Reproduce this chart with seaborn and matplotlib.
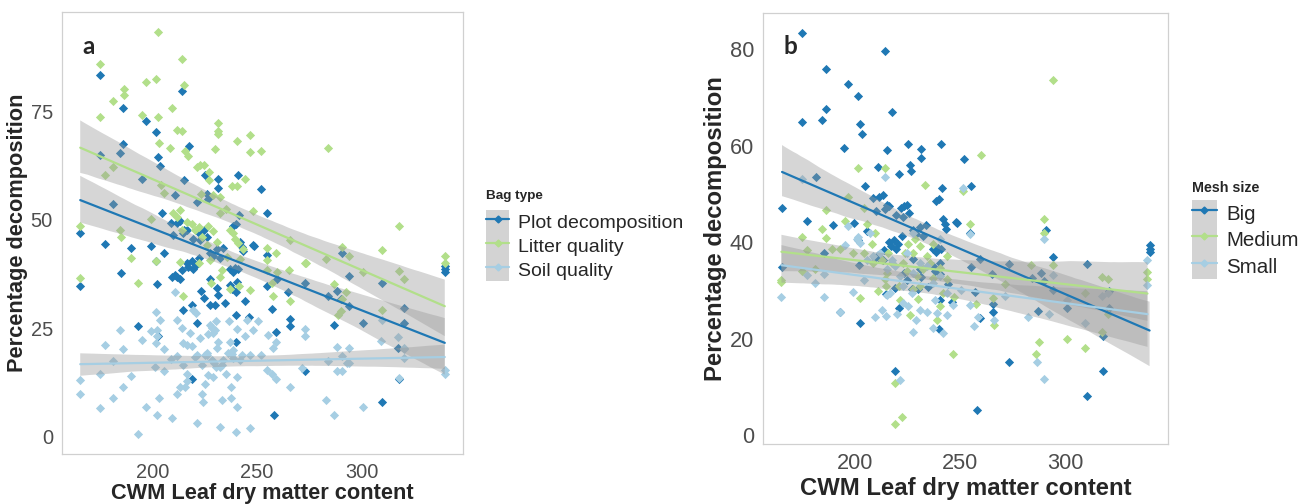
import matplotlib
matplotlib.use("Agg")
import matplotlib.pyplot as plt
import seaborn as sns
from matplotlib.lines import Line2D
from matplotlib.patches import Rectangle
from matplotlib.collections import PolyCollection

# Plot decomposition (panel a) == Big mesh (panel b)
plot_x = [165.3, 165.3, 174.7, 174.7, 177.2, 181.2, 184.1, 185.0, 186.0, 186.0,
          189.5, 193.0, 194.7, 196.7, 199.4, 201.6, 202.4, 203.3, 201.6, 201.9,
          202.4, 204.5, 205.6, 208.6, 210.7, 214.0, 215.0, 217.4, 214.5, 218.9,
          218.9, 221.0, 225.0, 226.3, 231.4, 231.4, 227.2, 229.9, 231.4, 234.4,
          240.8, 241.4, 240.1, 240.1, 244.1, 246.0, 239.8, 251.6, 254.8, 254.5,
          256.9, 258.0, 259.2, 265.6, 265.6, 273.1, 273.1, 286.8, 290.4, 288.4,
          294.1, 309.9, 309.9, 317.8, 320.5, 320.5, 339.8, 339.8, 339.8,
          209.4, 211.5, 213.1, 210.7, 213.9, 216.2, 217.0, 218.6, 220.5, 222.3,
          222.6, 223.4, 221.8, 219.4, 224.5, 225.8, 227.4, 229.0, 230.6, 232.2,
          233.8, 237.0, 238.5, 239.3, 240.9, 241.7, 242.5, 243.3, 247.8, 248.4,
          238.5, 239.8, 209.9, 214.3, 216.2, 221.0, 226.0, 223.1, 224.5, 219.4,
          215.0, 213.1, 211.5, 227.4, 230.6, 237.0, 238.1, 240.4,
          254.9, 284.0, 300.8, 317.5, 264.9, 289.9, 293.9, 259.4]
plot_y = [47.0, 34.8, 83.5, 64.9, 44.5, 53.6, 65.4, 37.7, 75.9, 67.6,
          43.6, 25.5, 59.5, 72.8, 44.0, 70.3, 64.5, 62.4, 40.5, 35.3,
          23.2, 51.7, 42.4, 49.2, 55.7, 79.7, 59.1, 67.1, 29.2, 30.5,
          13.3, 26.3, 60.3, 54.8, 59.4, 57.4, 30.3, 30.3, 32.7, 30.8,
          60.4, 51.2, 33.5, 28.1, 31.3, 27.7, 21.9, 57.2, 51.6, 41.9,
          29.6, 5.1, 24.2, 27.2, 25.5, 35.5, 15.2, 25.8, 42.5, 33.6,
          37.0, 8.0, 35.4, 13.3, 26.3, 29.8, 39.4, 38.6, 38.0,
          36.8, 36.8, 36.3, 37.3, 38.4, 40.0, 39.2, 40.5, 39.7, 41.3,
          45.3, 47.5, 47.2, 45.6, 47.8, 46.1, 42.5, 41.7, 43.2, 41.3,
          43.5, 38.7, 37.9, 38.9, 38.7, 44.9, 43.8, 42.8, 44.3, 44.0,
          48.6, 49.0, 46.5, 46.9, 47.6, 54.2, 56.1, 33.7, 32.1, 38.6,
          47.8, 49.7, 49.3, 36.5, 34.4, 35.0, 34.0, 35.7,
          34.8, 32.5, 26.3, 20.6, 33.4, 31.9, 30.1, 36.5]

litter_x = [165.3, 165.3, 174.7, 174.7, 177.2, 181.2, 181.2, 186.1, 186.1, 184.1,
            185.0, 189.5, 193.0, 194.7, 196.7, 199.4, 201.8, 202.4, 202.4, 203.2,
            201.6, 204.0, 205.6, 208.3, 209.4, 211.6, 214.0, 215.0, 214.0, 215.6,
            216.7, 214.3, 221.0, 222.6, 224.7, 226.8, 231.4, 231.4, 231.4, 229.7,
            223.3, 227.1, 228.9, 232.2, 234.9, 237.9, 240.4, 240.3, 244.3, 246.7,
            246.8, 248.1, 251.6, 254.5, 254.5, 256.9, 257.6, 259.2, 265.6, 265.9,
            273.1, 282.8, 284.1, 286.8, 290.4, 292.5, 294.1, 300.8, 309.9, 309.9,
            317.8, 317.8, 320.5, 339.8, 339.8,
            209.9, 211.5, 213.1, 213.9, 216.2, 218.6, 220.2, 222.3, 223.4, 225.8,
            226.6, 229.0, 230.6, 237.0, 238.5, 239.3, 240.9, 241.7, 243.3, 233.0,
            235.4, 232.2, 232.2, 227.4, 222.1,
            254.6, 259.4, 265.4, 273.3, 290.4, 288.5, 212.9, 227.8, 237.1, 241.1,
            246.6, 289.9]
litter_y = [48.6, 36.7, 85.9, 73.8, 60.3, 77.5, 62.2, 80.2, 78.7, 47.6,
            46.0, 41.3, 35.5, 74.2, 81.9, 50.2, 82.4, 93.3, 73.8, 67.7,
            40.6, 58.0, 56.2, 66.6, 75.9, 70.7, 87.1, 81.1, 70.5, 65.8,
            64.8, 32.5, 62.2, 62.6, 62.7, 61.1, 72.4, 70.6, 69.7, 66.4,
            56.1, 59.1, 55.7, 55.3, 52.6, 57.8, 57.8, 68.3, 59.5, 69.5,
            65.7, 52.1, 65.9, 43.6, 40.7, 35.4, 32.4, 42.5, 45.5, 31.3,
            40.0, 41.0, 66.6, 35.2, 43.8, 33.4, 41.7, 38.0, 43.1, 29.2,
            48.6, 38.2, 36.3, 41.6, 40.2,
            51.5, 50.7, 52.2, 47.6, 49.5, 49.1, 47.6, 48.4, 46.1, 44.2,
            48.6, 47.4, 44.9, 47.6, 46.9, 45.7, 44.6, 41.1, 43.4, 38.4,
            41.5, 36.9, 51.5, 40.7, 40.0,
            38.4, 37.9, 38.4, 40.1, 31.9, 28.1, 40.3, 35.5, 34.0, 34.7,
            33.8, 29.0]

soil_x = [165.3, 165.3, 174.7, 174.7, 177.2, 181.2, 184.1, 186.0, 186.0, 189.5,
          193.0, 194.7, 196.7, 199.4, 201.6, 201.9, 201.3, 201.9, 203.2, 203.5,
          205.6, 205.6, 208.6, 209.4, 210.7, 211.5, 213.9, 214.3, 214.6, 215.6,
          216.2, 218.6, 219.4, 220.7, 221.0, 222.6, 223.4, 223.9, 225.0, 226.6,
          227.4, 229.0, 229.8, 230.6, 231.4, 232.2, 232.2, 233.0, 235.1, 237.0,
          237.5, 237.5, 238.5, 239.8, 240.4, 240.4, 240.4, 244.1, 244.9, 246.5,
          248.1, 250.5, 254.5, 255.4, 256.9, 258.9, 259.2, 265.6, 271.3, 273.1,
          273.1, 282.8, 284.1, 286.8, 288.4, 290.4, 288.4, 290.4, 294.1, 294.1,
          300.8, 309.9, 317.8, 320.5, 320.5, 339.8, 339.8,
          217.8, 221.0, 225.8, 228.2, 230.3, 233.8, 235.9, 238.5, 241.7, 246.5,
          225.0, 229.0, 216.2, 213.1, 223.4,
          211.6, 220.4, 225.9, 229.1, 233.1, 237.9, 242.6, 251.6, 180.9, 211.6,
          230.4, 236.3, 201.7, 202.1, 216.4, 226.7, 228.3, 257.8, 292.8, 320.2,
          317.5, 309.5]
soil_y = [13.2, 10.0, 14.6, 6.6, 21.3, 8.9, 24.6, 20.2, 11.4, 14.1,
          0.7, 22.3, 6.8, 24.4, 28.8, 5.1, 16.2, 24.6, 8.9, 26.9,
          20.2, 15.2, 17.9, 4.4, 33.3, 9.8, 25.0, 21.6, 16.6, 11.6,
          14.4, 20.9, 29.2, 28.5, 3.1, 22.7, 9.8, 8.1, 19.0, 14.3,
          25.8, 23.9, 24.6, 20.6, 21.9, 16.2, 2.4, 8.5, 14.6, 21.9,
          11.6, 8.9, 20.0, 1.1, 13.9, 7.0, 24.8, 23.2, 26.9, 2.0,
          24.6, 26.8, 15.4, 23.6, 14.6, 21.9, 13.3, 11.4, 16.0, 24.8,
          23.2, 8.5, 17.5, 5.1, 15.2, 15.2, 20.8, 18.6, 20.6, 17.1,
          7.0, 26.9, 13.5, 18.1, 20.2, 15.4, 14.5,
          23.9, 18.9, 19.3, 17.7, 16.2, 17.7, 19.3, 18.1, 17.7, 18.9,
          12.3, 13.9, 12.8, 11.6, 16.6,
          18.6, 18.5, 18.9, 17.0, 16.6, 19.2, 18.9, 18.9, 17.5, 26.9,
          26.8, 26.8, 21.6, 23.2, 21.2, 23.8, 25.0, 20.4, 17.1, 20.6,
          23.1, 22.0]

medium_x = [165.0, 165.0, 174.8, 174.8, 177.1, 181.1, 184.2, 186.0, 186.0, 189.0,
            192.9, 195.0, 196.5, 199.2, 201.4, 202.4, 204.0, 204.0, 205.5, 207.9,
            209.5, 211.0, 214.2, 214.7, 214.2, 215.8, 218.9, 218.9, 222.1, 221.0,
            221.3, 223.7, 224.5, 225.2, 226.0, 227.6, 228.4, 229.2, 230.0, 230.8,
            233.4, 233.9, 237.1, 238.7, 240.2, 241.5, 243.4, 246.5, 246.8, 251.3,
            254.7, 257.6, 259.6, 265.9, 265.4, 271.0, 283.6, 287.5, 286.0, 289.9,
            289.9, 293.8, 293.8, 300.6, 309.1, 309.1, 317.0, 317.2, 319.9, 319.9,
            338.8, 338.8,
            212.6, 217.4, 222.9, 227.6, 232.3, 235.5, 240.2, 243.4, 237.1, 230.8,
            215.0, 208.7]
medium_y = [31.7, 32.1, 41.0, 34.1, 38.4, 34.5, 42.7, 46.6, 40.9, 38.7,
            38.5, 44.5, 49.3, 37.8, 55.5, 28.4, 47.2, 37.8, 43.8, 39.7,
            42.0, 29.8, 55.3, 31.0, 32.3, 37.8, 10.8, 2.2, 3.7, 30.9,
            28.1, 37.8, 34.0, 39.6, 24.9, 30.2, 40.6, 33.0, 28.2, 30.9,
            51.8, 37.1, 39.6, 23.8, 26.7, 29.5, 37.1, 16.9, 28.6, 50.6,
            43.8, 27.2, 58.2, 22.9, 28.4, 31.4, 35.3, 19.4, 16.9, 44.9,
            41.9, 73.7, 35.3, 19.9, 29.5, 18.1, 21.3, 32.8, 32.3, 25.2,
            33.8, 32.3,
            36.4, 35.7, 35.7, 37.8, 34.4, 35.7, 34.7, 32.3, 32.6, 39.2,
            33.7, 35.7]

small_x = [165.0, 174.8, 177.1, 181.1, 185.4, 185.4, 192.9, 195.3, 196.5, 199.2,
           201.6, 202.1, 204.0, 205.5, 207.1, 209.5, 212.6, 214.2, 214.7, 215.0,
           217.4, 219.7, 221.3, 222.9, 225.2, 226.8, 227.6, 228.9, 230.8, 233.9,
           236.8, 237.9, 239.0, 240.2, 241.8, 243.7, 246.5, 250.5, 251.3, 254.4,
           254.7, 256.3, 258.4, 265.9, 271.0, 282.0, 286.3, 289.9, 289.9, 291.9,
           293.8, 300.6, 309.1, 317.0, 319.9, 338.8, 338.8,
           200.8, 208.7, 211.8, 215.0, 218.9, 221.3, 224.4, 227.6, 230.8, 233.9,
           237.1, 240.2, 243.4, 227.6, 222.9, 216.7]
small_y = [28.6, 53.2, 33.1, 31.6, 33.4, 28.6, 25.6, 39.4, 43.4, 29.7,
           41.0, 39.9, 32.1, 36.4, 42.0, 24.5, 26.0, 53.5, 24.7, 29.1,
           36.4, 25.2, 11.5, 27.4, 26.8, 29.5, 21.3, 23.8, 26.0, 25.6,
           22.2, 28.1, 25.3, 40.6, 21.1, 24.9, 27.0, 30.0, 51.2, 27.0,
           41.7, 22.6, 24.5, 23.8, 28.8, 24.4, 15.1, 40.6, 11.7, 25.2,
           33.2, 28.1, 23.3, 28.8, 29.5, 36.4, 31.2,
           40.6, 37.1, 37.8, 34.4, 35.1, 33.0, 37.8, 33.7, 35.7, 35.1,
           31.6, 33.0, 29.5, 42.0, 31.0, 29.5]

BLUE = "#1f78b4"
GREEN = "#b2df8a"
LIGHT = "#a6cee3"
BAND = "#999999"
KEY_BG = "#d3d3d3"
FONT = "Liberation Sans"
W, H = 1310, 504


def padded(values, frac=0.05):
    lo, hi = min(values), max(values)
    pad = (hi - lo) * frac
    return lo - pad, hi + pad


def draw_panel(ax, groups, letter, yticks, sizes):
    tick_fs, lab_fs, xlab_y, ylab_x = sizes
    for name, xs, ys, color in groups:
        sns.scatterplot(x=xs, y=ys, color=color, marker="D", s=22,
                        linewidth=0, ax=ax, legend=False)
    for name, xs, ys, color in groups:
        sns.regplot(x=xs, y=ys, scatter=False, color=color, ci=95,
                    line_kws=dict(lw=1.6), ax=ax)
    # ggplot-style grey confidence ribbons
    for coll in ax.collections:
        if isinstance(coll, PolyCollection):
            coll.set_facecolor(BAND)
            coll.set_alpha(0.4)
            coll.set_edgecolor("none")

    all_x = [v for g in groups for v in g[1]]
    all_y = [v for g in groups for v in g[2]]
    ax.set_xlim(*padded(all_x))
    ax.set_ylim(*padded(all_y))
    ax.set_xticks([200, 250, 300])
    ax.set_yticks(yticks)
    ax.tick_params(colors="#333333", labelcolor="#4d4d4d", labelsize=tick_fs,
                   length=3, width=0.6)
    for lab in ax.get_xticklabels() + ax.get_yticklabels():
        lab.set_family(FONT)
    for sp in ax.spines.values():
        sp.set_color("#d0d0d0")
        sp.set_linewidth(0.9)
    ax.set_facecolor("white")
    ax.set_xlabel("CWM Leaf dry matter content", fontsize=lab_fs,
                  fontweight="bold", family=FONT)
    ax.set_ylabel("Percentage decomposition", fontsize=lab_fs,
                  fontweight="bold", family=FONT)
    ax.xaxis.set_label_coords(0.5, xlab_y)
    ax.yaxis.set_label_coords(ylab_x, 0.5)
    ax.text(0.05, 0.905, letter, transform=ax.transAxes, fontsize=17.5,
            fontweight="bold", family="Lato", va="baseline")


def add_legend(fig, groups, title, title_xy, anchor, fs, title_fs, key_h):
    fig.text(title_xy[0] / W, 1 - title_xy[1] / H, title, family=FONT,
             fontsize=title_fs, fontweight="bold", va="center", ha="left")
    handles = []
    for name, xs, ys, color in groups:
        bg = Rectangle((0, 0), 1, 1, facecolor=KEY_BG, edgecolor="none")
        ln = Line2D([], [], color=color, lw=1.6, marker="D", ms=3.5)
        handles.append((bg, ln))
    fig.legend(handles, [g[0] for g in groups], loc="upper left",
               bbox_to_anchor=(anchor[0] / W, 1 - anchor[1] / H),
               frameon=False, prop=dict(family=FONT, size=fs),
               handlelength=1.2, handleheight=key_h, labelspacing=0.0,
               handletextpad=0.45, borderpad=0, borderaxespad=0)


def main():
    sns.set_style("white")
    plt.rcParams["font.family"] = [FONT, "DejaVu Sans"]

    fig = plt.figure(figsize=(W / 100, H / 100), dpi=100)
    ax_a = fig.add_axes([62 / W, 1 - 454 / H, 401 / W, 442 / H])
    ax_b = fig.add_axes([763 / W, 1 - 444 / H, 405 / W, 431 / H])

    groups_a = [("Plot decomposition", plot_x, plot_y, BLUE),
                ("Litter quality", litter_x, litter_y, GREEN),
                ("Soil quality", soil_x, soil_y, LIGHT)]
    groups_b = [("Big", plot_x, plot_y, BLUE),
                ("Medium", medium_x, medium_y, GREEN),
                ("Small", small_x, small_y, LIGHT)]

    draw_panel(ax_a, groups_a, "a", [0, 25, 50, 75],
               (14.4, 15.7, -0.066, -0.085))
    draw_panel(ax_b, groups_b, "b", [0, 20, 40, 60, 80],
               (15.7, 17.2, -0.077, -0.089))

    add_legend(fig, groups_a, "Bag type", (486, 196), (486, 210), 14, 9.7, 1.5)
    add_legend(fig, groups_b, "Mesh size", (1192, 188), (1192, 200), 14.8,
               10.3, 1.6)

    fig.savefig("out.png", dpi=100)
    plt.close(fig)


if __name__ == "__main__":
    main()
